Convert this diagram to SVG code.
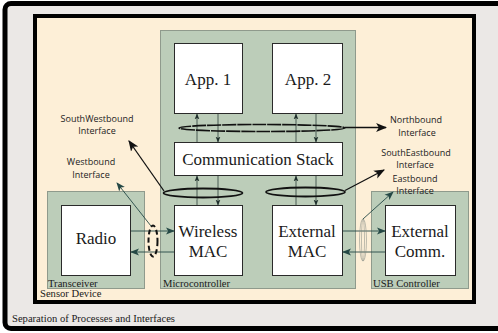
<svg xmlns="http://www.w3.org/2000/svg" width="498" height="333" viewBox="0 0 498 333">
  <style>
    .serif { font-family: "Liberation Serif", "Times New Roman", serif; fill: #1a1a1a; }
    .big { font-family: "Liberation Serif", "Times New Roman", serif; font-size: 17px; text-anchor: middle; fill: #1a1a1a; }
    .small { font-size: 10.6px; }
    .sans { font-family: "Open Sans", "DejaVu Sans", sans-serif; font-size: 9px; fill: #222; text-anchor: middle; }
    .box { fill: #ffffff; stroke: #2a2a2a; stroke-width: 1; }
    .area { fill: #bccdb9; stroke: #8f9a8c; stroke-width: 1; }
    .thin { stroke: #2f3f3a; stroke-width: 0.8; fill: none; }
    .teal { stroke: #254845; stroke-width: 0.9; fill: none; }
    .bold { stroke: #111; stroke-width: 1.3; fill: none; }
  </style>
  <defs>
    <marker id="headSmall" viewBox="0 0 10 10" refX="9" refY="5" markerWidth="6" markerHeight="6" markerUnits="userSpaceOnUse" orient="auto">
      <path d="M0,1 L10,5 L0,9 L2.5,5 Z" fill="#1f2f2c"/>
    </marker>
    <marker id="headTeal" viewBox="0 0 10 10" refX="9" refY="5" markerWidth="9" markerHeight="9" markerUnits="userSpaceOnUse" orient="auto">
      <path d="M0,1 L10,5 L0,9 L2.5,5 Z" fill="#254845"/>
    </marker>
    <marker id="headBold" viewBox="0 0 10 10" refX="9" refY="5" markerWidth="11" markerHeight="11" markerUnits="userSpaceOnUse" orient="auto">
      <path d="M0,1 L10,5 L0,9 L2.5,5 Z" fill="#111"/>
    </marker>
  </defs>

  <!-- page frame -->
  <rect x="5" y="3.5" width="520" height="325" rx="6" fill="#ebe8e6" stroke="#000" stroke-width="5"/>
  <text class="serif small" x="12" y="321.5">Separation of Processes and Interfaces</text>

  <!-- sensor device -->
  <g id="sensor-device">
    <rect x="35" y="16" width="439" height="286" fill="#fdefd7" stroke="#000" stroke-width="4"/>
    <text class="serif small" x="40" y="296.5">Sensor Device</text>
  </g>

  <!-- containers -->
  <g id="microcontroller">
    <rect class="area" x="160.5" y="30.5" width="195" height="258"/>
    <text class="serif small" x="163" y="286.5">Microcontroller</text>
  </g>
  <g id="transceiver">
    <rect class="area" x="47.5" y="191.5" width="97" height="97"/>
    <text class="serif small" x="48" y="286.5">Transceiver</text>
  </g>
  <g id="usb-controller">
    <rect class="area" x="371.5" y="191.5" width="97" height="97"/>
    <text class="serif small" x="373" y="286.5">USB Controller</text>
  </g>

  <!-- process nodes -->
  <g id="app1">
    <rect class="box" x="174.5" y="43.5" width="68" height="70"/>
    <text class="big" x="208" y="85">App. 1</text>
  </g>
  <g id="app2">
    <rect class="box" x="272.5" y="43.5" width="70" height="70"/>
    <text class="big" x="308" y="85">App. 2</text>
  </g>
  <g id="comm-stack">
    <rect class="box" x="174.5" y="142.5" width="168" height="33"/>
    <text class="big" x="258" y="165">Communication Stack</text>
  </g>
  <g id="wireless-mac">
    <rect class="box" x="174.5" y="205.5" width="68" height="70"/>
    <text class="big" x="208" y="237">Wireless</text>
    <text class="big" x="208" y="257">MAC</text>
  </g>
  <g id="external-mac">
    <rect class="box" x="272.5" y="205.5" width="70" height="70"/>
    <text class="big" x="307" y="237">External</text>
    <text class="big" x="307" y="257">MAC</text>
  </g>
  <g id="radio">
    <rect class="box" x="61.5" y="205.5" width="69" height="70"/>
    <text class="big" x="96" y="244">Radio</text>
  </g>
  <g id="external-comm">
    <rect class="box" x="385.5" y="205.5" width="70" height="70"/>
    <text class="big" x="420" y="237">External</text>
    <text class="big" x="420" y="257">Comm.</text>
  </g>

  <!-- interface labels -->
  <g id="interface-labels">
    <text class="sans" x="97" y="122">SouthWestbound</text>
    <text class="sans" x="97" y="134">Interface</text>
    <text class="sans" x="91" y="165">Westbound</text>
    <text class="sans" x="91" y="177.5">Interface</text>
    <text class="sans" x="416" y="123">Northbound</text>
    <text class="sans" x="417" y="135.5">Interface</text>
    <text class="sans" x="416" y="156">SouthEastbound</text>
    <text class="sans" x="415" y="168">Interface</text>
    <text class="sans" x="415" y="182">Eastbound</text>
    <text class="sans" x="415" y="193.5">Interface</text>
  </g>

  <!-- connectors -->
  <g id="connectors">
    <!-- apps to communication stack -->
    <line class="thin" x1="197" y1="142" x2="197" y2="114" marker-end="url(#headSmall)"/>
    <line class="thin" x1="218" y1="114" x2="218" y2="142" marker-end="url(#headSmall)"/>
    <line class="thin" x1="296" y1="142" x2="296" y2="114" marker-end="url(#headSmall)"/>
    <line class="thin" x1="316" y1="114" x2="316" y2="142" marker-end="url(#headSmall)"/>
    <!-- communication stack to MAC layers -->
    <line class="thin" x1="197" y1="205" x2="197" y2="176" marker-end="url(#headSmall)"/>
    <line class="thin" x1="218" y1="176" x2="218" y2="205" marker-end="url(#headSmall)"/>
    <line class="thin" x1="296" y1="205" x2="296" y2="176" marker-end="url(#headSmall)"/>
    <line class="thin" x1="316" y1="176" x2="316" y2="205" marker-end="url(#headSmall)"/>

    <!-- northbound interface -->
    <ellipse cx="262" cy="128" rx="83" ry="3.5" fill="none" stroke="#111" stroke-width="1.6" stroke-dasharray="14 1"/>
    <line class="bold" x1="345" y1="127.5" x2="386" y2="127.5" marker-end="url(#headBold)"/>

    <!-- southwestbound interface -->
    <ellipse cx="203" cy="193" rx="39.5" ry="4.5" fill="none" stroke="#111" stroke-width="1.8"/>
    <line class="bold" x1="164" y1="191" x2="129" y2="141" marker-end="url(#headBold)"/>

    <!-- southeastbound interface -->
    <ellipse cx="305.5" cy="192" rx="39.5" ry="4.5" fill="none" stroke="#111" stroke-width="1.8"/>
    <line class="bold" x1="345" y1="190.5" x2="384" y2="170" marker-end="url(#headBold)"/>

    <!-- radio link -->
    <line class="teal" x1="131" y1="231" x2="174" y2="231" marker-end="url(#headTeal)"/>
    <line class="teal" x1="174" y1="252" x2="131" y2="252" marker-end="url(#headTeal)"/>
    <ellipse cx="153" cy="241" rx="4.5" ry="15.5" fill="none" stroke="#111" stroke-width="2" stroke-dasharray="5 3"/>
    <line class="teal" x1="151" y1="226" x2="117" y2="183" marker-end="url(#headTeal)"/>

    <!-- usb link -->
    <line class="teal" x1="343" y1="231" x2="385" y2="231" marker-end="url(#headTeal)"/>
    <line class="teal" x1="385" y1="252" x2="343" y2="252" marker-end="url(#headTeal)"/>
    <g fill="none" stroke="#7d857f" stroke-width="0.5">
      <ellipse cx="363" cy="240" rx="1.5" ry="21"/>
      <ellipse cx="363" cy="240" rx="3.5" ry="21"/>
    </g>
    <line class="teal" x1="363" y1="219" x2="393" y2="192" marker-end="url(#headTeal)"/>
  </g>
</svg>
